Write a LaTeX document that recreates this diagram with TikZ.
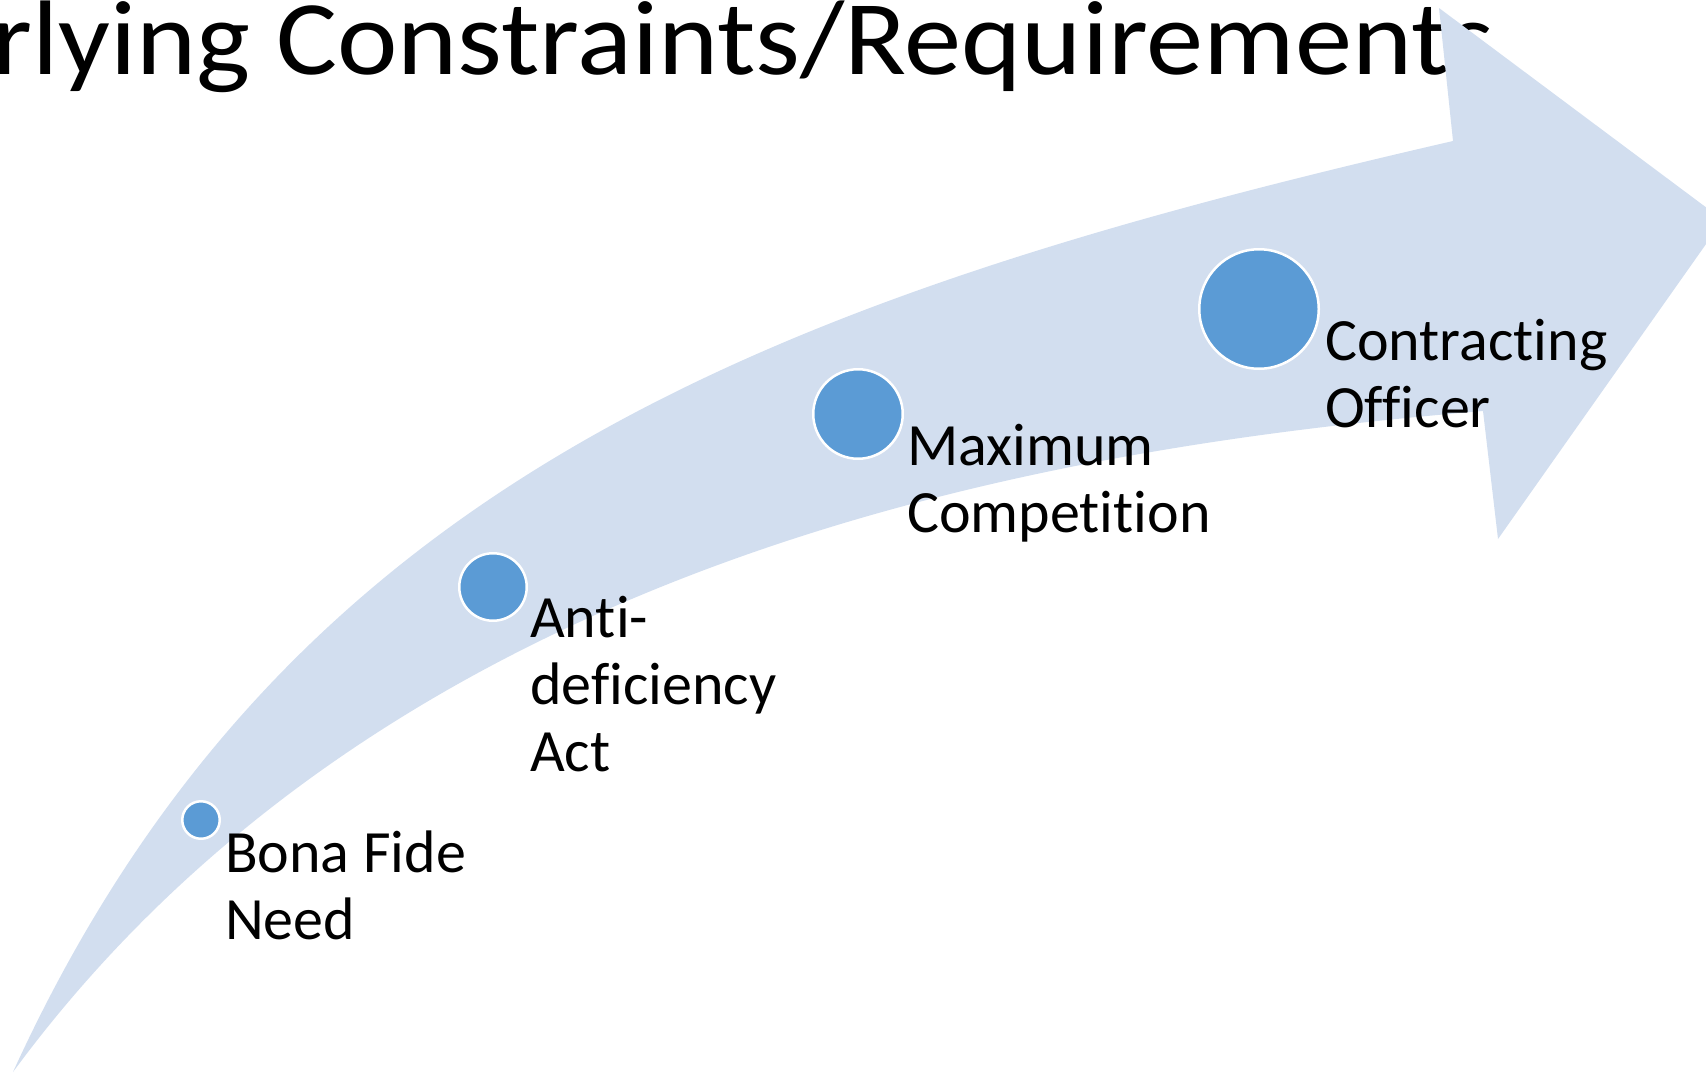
\documentclass[tikz,border=0pt]{standalone}
\usepackage{fontspec}
\setmainfont{Carlito}[Ligatures=CommonOff]
\definecolor{arrowfill}{HTML}{D2DEEF}
\definecolor{dotfill}{HTML}{5B9BD5}
\begin{document}
\begin{tikzpicture}[x=1pt,y=-1pt,
  dot/.style={circle, fill=dotfill, draw=white, line width=2.5pt, inner sep=0pt},
  lbl/.style={anchor=base west, inner sep=0pt, font=\fontsize{60}{67}\selectfont},
  titlestyle/.style={anchor=base west, inner sep=0pt, font=\fontsize{106}{120}\selectfont}]
\useasboundingbox (0,0) rectangle (1706,1074);
\clip (0,0) rectangle (1706,1074);
\node[titlestyle] (title) at (-8,74) {\scalebox{1.08}[1]{rlying Constraints/Requirements}};
\fill[arrowfill] (13,1072) .. controls (283,481) and (771,298) .. (1453,141)
  -- (1439,8) -- (1723,220) -- (1498,539) -- (1483,411)
  .. controls (1065,446) and (398,549) .. (13,1072) -- cycle;
\node[dot, minimum size=37.5pt] (c1) at (201,820) {};
\node[dot, minimum size=67.5pt] (c2) at (493,587) {};
\node[dot, minimum size=89.5pt] (c3) at (858,414) {};
\node[dot, minimum size=119.5pt] (c4) at (1259,309) {};
\node[lbl] (l1) at (225,872) {\vtop{\hbox{Bona Fide}\hbox{Need}}};
\node[lbl] (l2) at (530,637) {\vtop{\hbox{Anti-}\hbox{deficiency}\hbox{Act}}};
\node[lbl] (l3) at (907,465) {\vtop{\hbox{Maximum}\hbox{Competition}}};
\node[lbl] (l4) at (1325,360) {\vtop{\hbox{Contracting}\hbox{Officer}}};
\end{tikzpicture}
\end{document}
